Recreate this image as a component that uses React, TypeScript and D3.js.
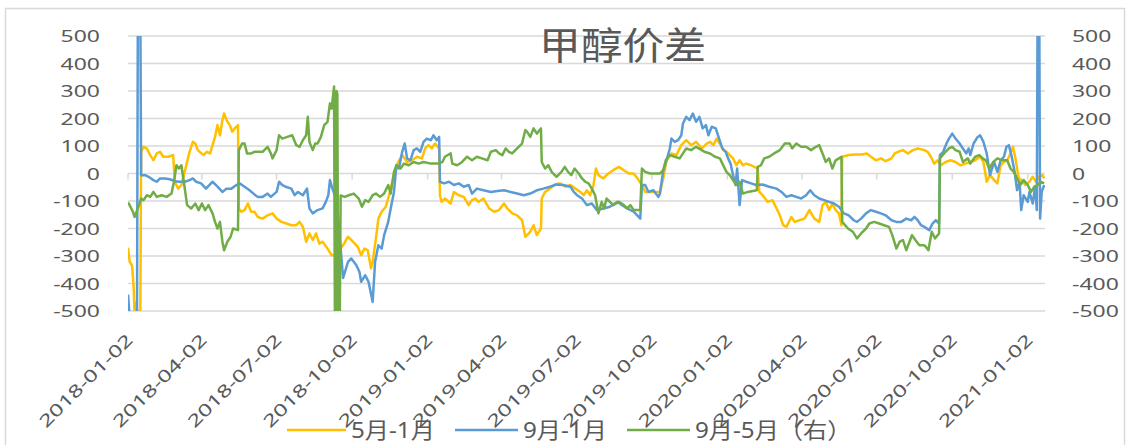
import React from 'react';
import * as d3 from 'd3';

// 甲醇价差 — three calendar spreads, daily closes
const spread51: [string, number][] = [
  ['2018-01-02', -270], ['2018-01-04', -320], ['2018-01-07', -335], ['2018-01-09', -420], ['2018-01-10', -520],
  ['2018-01-12', -470], ['2018-01-14', -520], ['2018-01-17', -520], ['2018-01-18', 79], ['2018-01-21', 97],
  ['2018-01-25', 91], ['2018-01-29', 67], ['2018-02-02', 48], ['2018-02-06', 73], ['2018-02-10', 79],
  ['2018-02-14', 61], ['2018-02-20', 61], ['2018-02-26', 67], ['2018-02-28', -30], ['2018-03-04', -55],
  ['2018-03-08', -42], ['2018-03-11', -6], ['2018-03-14', 30], ['2018-03-18', 79], ['2018-03-22', 115],
  ['2018-03-25', 109], ['2018-03-28', 85], ['2018-04-04', 67], ['2018-04-08', 79], ['2018-04-12', 73],
  ['2018-04-15', 103], ['2018-04-18', 133], ['2018-04-21', 176], ['2018-04-24', 139], ['2018-04-27', 194],
  ['2018-04-29', 218], ['2018-05-02', 194], ['2018-05-06', 176], ['2018-05-09', 152], ['2018-05-12', 164],
  ['2018-05-16', 176], ['2018-05-17', -127], ['2018-05-20', -139], ['2018-05-24', -133], ['2018-05-28', -109],
  ['2018-06-01', -139], ['2018-06-05', -139], ['2018-06-09', -158], ['2018-06-15', -164], ['2018-06-21', -152],
  ['2018-06-27', -145], ['2018-07-02', -164], ['2018-07-08', -176], ['2018-07-14', -182], ['2018-07-20', -188],
  ['2018-07-26', -188], ['2018-07-30', -176], ['2018-08-03', -194], ['2018-08-07', -248], ['2018-08-11', -218],
  ['2018-08-15', -242], ['2018-08-19', -218], ['2018-08-23', -255], ['2018-08-27', -248], ['2018-09-02', -273],
  ['2018-09-07', -297], ['2018-09-11', -297], ['2018-09-16', -280], ['2018-09-21', -261], ['2018-09-27', -230],
  ['2018-10-03', -248], ['2018-10-09', -267], ['2018-10-13', -297], ['2018-10-17', -273], ['2018-10-21', -279],
  ['2018-10-25', -345], ['2018-10-27', -321], ['2018-10-31', -236], ['2018-11-03', -164], ['2018-11-07', -139],
  ['2018-11-12', -121], ['2018-11-16', -79], ['2018-11-18', -55], ['2018-11-22', -6], ['2018-11-25', 30],
  ['2018-12-02', 67], ['2018-12-08', 42], ['2018-12-14', 48], ['2018-12-20', 61], ['2018-12-26', 55],
  ['2018-12-30', 91], ['2019-01-03', 103], ['2019-01-07', 91], ['2019-01-11', 109], ['2019-01-16', 91],
  ['2019-01-17', -79], ['2019-01-19', -103], ['2019-01-23', -91], ['2019-01-30', -109], ['2019-02-03', -67],
  ['2019-02-09', -79], ['2019-02-15', -85], ['2019-02-21', -115], ['2019-02-25', -97], ['2019-03-01', -91],
  ['2019-03-05', -103], ['2019-03-11', -91], ['2019-03-18', -127], ['2019-03-24', -139], ['2019-03-30', -133],
  ['2019-04-05', -109], ['2019-04-09', -127], ['2019-04-15', -145], ['2019-04-21', -152], ['2019-04-27', -170],
  ['2019-05-01', -230], ['2019-05-07', -212], ['2019-05-11', -188], ['2019-05-15', -224], ['2019-05-20', -200],
  ['2019-05-21', -91], ['2019-05-25', -67], ['2019-05-31', -55], ['2019-06-06', -40], ['2019-06-12', -36],
  ['2019-06-19', -48], ['2019-06-25', -42], ['2019-07-01', -55], ['2019-07-07', -67], ['2019-07-11', -79],
  ['2019-07-15', -61], ['2019-07-19', -79], ['2019-07-23', -42], ['2019-07-26', 18], ['2019-07-29', -6],
  ['2019-08-04', -18], ['2019-08-10', 0], ['2019-08-16', 12], ['2019-08-23', 24], ['2019-08-29', 12],
  ['2019-09-04', 0], ['2019-09-10', 0], ['2019-09-16', -24], ['2019-09-20', -42], ['2019-09-24', -67],
  ['2019-09-30', -67], ['2019-10-06', -67], ['2019-10-12', -67], ['2019-10-16', -18], ['2019-10-20', 48],
  ['2019-10-26', 73], ['2019-11-01', 67], ['2019-11-07', 103], ['2019-11-13', 121], ['2019-11-19', 103],
  ['2019-11-25', 115], ['2019-12-02', 91], ['2019-12-08', 109], ['2019-12-12', 115], ['2019-12-16', 103],
  ['2019-12-20', 127], ['2019-12-24', 109], ['2019-12-28', 85], ['2020-01-01', 79], ['2020-01-05', 67],
  ['2020-01-09', 55], ['2020-01-13', 30], ['2020-01-17', 48], ['2020-01-21', 30], ['2020-01-25', 36],
  ['2020-01-31', 30], ['2020-02-08', 18], ['2020-02-10', -67], ['2020-02-14', -79], ['2020-02-20', -103],
  ['2020-02-26', -97], ['2020-03-02', -127], ['2020-03-06', -152], ['2020-03-10', -188], ['2020-03-14', -194],
  ['2020-03-20', -158], ['2020-03-24', -176], ['2020-03-30', -170], ['2020-04-05', -164], ['2020-04-11', -133],
  ['2020-04-17', -164], ['2020-04-23', -176], ['2020-04-27', -115], ['2020-05-01', -103], ['2020-05-05', -133],
  ['2020-05-09', -109], ['2020-05-13', -133], ['2020-05-17', -145], ['2020-05-20', -188], ['2020-05-21', 61],
  ['2020-05-29', 67], ['2020-06-06', 69], ['2020-06-14', 69], ['2020-06-20', 73], ['2020-06-25', 61],
  ['2020-07-01', 48], ['2020-07-07', 55], ['2020-07-13', 45], ['2020-07-20', 55], ['2020-07-24', 73],
  ['2020-07-28', 79], ['2020-08-03', 85], ['2020-08-09', 73], ['2020-08-15', 85], ['2020-08-21', 91],
  ['2020-08-29', 85], ['2020-09-02', 79], ['2020-09-06', 61], ['2020-09-10', 36], ['2020-09-14', 48],
  ['2020-09-18', 30], ['2020-09-24', 42], ['2020-09-30', 48], ['2020-10-06', 42], ['2020-10-12', 30],
  ['2020-10-18', 36], ['2020-10-24', 42], ['2020-10-30', 48], ['2020-11-05', 61], ['2020-11-09', 42],
  ['2020-11-13', -30], ['2020-11-17', -6], ['2020-11-22', -24], ['2020-11-26', -36], ['2020-11-30', 30],
  ['2020-12-04', 42], ['2020-12-08', 48], ['2020-12-12', 73], ['2020-12-15', 97], ['2020-12-18', 55],
  ['2020-12-22', -18], ['2020-12-26', -24], ['2020-12-30', -42], ['2021-01-04', -30], ['2021-01-08', -12],
  ['2021-01-12', -30], ['2021-01-16', -12], ['2021-01-20', -6], ['2021-01-22', -18],
];

const spread91: [string, number][] = [
  ['2018-01-02', -440], ['2018-01-04', -520], ['2018-01-13', -520], ['2018-01-14', 600], ['2018-01-17', 600],
  ['2018-01-18', -6], ['2018-01-23', -6], ['2018-01-27', -12], ['2018-02-02', -24], ['2018-02-06', -30],
  ['2018-02-10', -18], ['2018-02-16', -18], ['2018-02-22', -21], ['2018-02-28', -28], ['2018-03-06', -30],
  ['2018-03-12', -30], ['2018-03-18', -24], ['2018-03-22', -18], ['2018-03-26', -30], ['2018-04-01', -36],
  ['2018-04-07', -55], ['2018-04-11', -42], ['2018-04-15', -30], ['2018-04-21', -48], ['2018-04-27', -67],
  ['2018-05-02', -55], ['2018-05-08', -55], ['2018-05-14', -42], ['2018-05-18', -36], ['2018-05-24', -48],
  ['2018-05-30', -61], ['2018-06-05', -76], ['2018-06-09', -85], ['2018-06-15', -85], ['2018-06-21', -73],
  ['2018-06-25', -85], ['2018-07-02', -67], ['2018-07-05', -30], ['2018-07-09', -42], ['2018-07-13', -48],
  ['2018-07-20', -55], ['2018-07-24', -79], ['2018-07-28', -67], ['2018-08-03', -79], ['2018-08-08', -55],
  ['2018-08-11', -127], ['2018-08-15', -145], ['2018-08-21', -133], ['2018-08-27', -127], ['2018-08-31', -103],
  ['2018-09-03', -79], ['2018-09-05', -24], ['2018-09-08', -55], ['2018-09-11', -79], ['2018-09-13', -90],
  ['2018-09-21', -380], ['2018-09-27', -321], ['2018-10-01', -309], ['2018-10-07', -333], ['2018-10-11', -358],
  ['2018-10-13', -394], ['2018-10-18', -370], ['2018-10-22', -394], ['2018-10-27', -467], ['2018-10-30', -321],
  ['2018-11-03', -261], ['2018-11-07', -273], ['2018-11-10', -224], ['2018-11-15', -176], ['2018-11-18', -127],
  ['2018-11-22', -67], ['2018-11-25', 30], ['2018-11-28', 18], ['2018-12-02', 79], ['2018-12-05', 109],
  ['2018-12-08', 55], ['2018-12-12', 48], ['2018-12-16', 85], ['2018-12-20', 91], ['2018-12-24', 79],
  ['2018-12-28', 115], ['2019-01-01', 127], ['2019-01-06', 121], ['2019-01-09', 139], ['2019-01-13', 121],
  ['2019-01-16', 133], ['2019-01-17', -30], ['2019-01-22', -36], ['2019-01-28', -30], ['2019-02-03', -42],
  ['2019-02-09', -36], ['2019-02-15', -48], ['2019-02-21', -42], ['2019-02-25', -73], ['2019-03-03', -55],
  ['2019-03-11', -61], ['2019-03-20', -67], ['2019-03-28', -64], ['2019-04-05', -61], ['2019-04-13', -67],
  ['2019-04-21', -73], ['2019-04-29', -79], ['2019-05-07', -73], ['2019-05-15', -61], ['2019-05-23', -55],
  ['2019-05-31', -48], ['2019-06-08', -40], ['2019-06-16', -42], ['2019-06-25', -48], ['2019-06-29', -67],
  ['2019-07-03', -79], ['2019-07-09', -91], ['2019-07-15', -115], ['2019-07-21', -109], ['2019-07-27', -133],
  ['2019-08-04', -127], ['2019-08-12', -121], ['2019-08-21', -103], ['2019-08-27', -115], ['2019-09-02', -127],
  ['2019-09-10', -139], ['2019-09-18', -164], ['2019-09-20', -42], ['2019-09-24', -42], ['2019-09-28', -67],
  ['2019-10-04', -61], ['2019-10-10', -85], ['2019-10-12', -73], ['2019-10-16', 12], ['2019-10-20', 48],
  ['2019-10-24', 91], ['2019-10-26', 127], ['2019-10-30', 115], ['2019-11-03', 121], ['2019-11-07', 139],
  ['2019-11-09', 182], ['2019-11-13', 206], ['2019-11-17', 194], ['2019-11-21', 218], ['2019-11-25', 188],
  ['2019-11-29', 206], ['2019-12-03', 164], ['2019-12-07', 176], ['2019-12-10', 139], ['2019-12-14', 170],
  ['2019-12-19', 164], ['2019-12-23', 127], ['2019-12-27', 91], ['2019-12-31', 79], ['2020-01-03', 55],
  ['2020-01-06', 36], ['2020-01-09', -6], ['2020-01-12', -42], ['2020-01-14', 18], ['2020-01-17', -115],
  ['2020-01-20', -24], ['2020-01-25', -30], ['2020-01-31', -36], ['2020-02-06', -42], ['2020-02-14', -40],
  ['2020-02-22', -48], ['2020-03-02', -55], ['2020-03-08', -67], ['2020-03-14', -85], ['2020-03-20', -79],
  ['2020-03-26', -85], ['2020-04-01', -91], ['2020-04-07', -79], ['2020-04-12', -61], ['2020-04-17', -79],
  ['2020-04-23', -91], ['2020-04-29', -97], ['2020-05-05', -103], ['2020-05-11', -109], ['2020-05-17', -121],
  ['2020-05-23', -145], ['2020-05-29', -152], ['2020-06-04', -170], ['2020-06-08', -176], ['2020-06-13', -164],
  ['2020-06-19', -145], ['2020-06-25', -133], ['2020-07-01', -139], ['2020-07-07', -145], ['2020-07-13', -152],
  ['2020-07-20', -170], ['2020-07-26', -176], ['2020-08-01', -176], ['2020-08-07', -164], ['2020-08-13', -170],
  ['2020-08-17', -158], ['2020-08-21', -170], ['2020-08-25', -188], ['2020-08-29', -194], ['2020-09-04', -206],
  ['2020-09-08', -182], ['2020-09-12', -170], ['2020-09-16', -182], ['2020-09-17', 67], ['2020-09-21', 79],
  ['2020-09-25', 109], ['2020-09-28', 127], ['2020-10-02', 145], ['2020-10-06', 127], ['2020-10-11', 109],
  ['2020-10-15', 91], ['2020-10-19', 73], ['2020-10-22', 91], ['2020-10-24', 67], ['2020-10-28', 109],
  ['2020-11-02', 133], ['2020-11-05', 139], ['2020-11-09', 115], ['2020-11-13', 73], ['2020-11-17', -6],
  ['2020-11-22', 42], ['2020-11-26', 6], ['2020-11-30', 48], ['2020-12-04', 61], ['2020-12-07', 97],
  ['2020-12-10', 103], ['2020-12-13', 67], ['2020-12-17', 6], ['2020-12-20', -61], ['2020-12-23', -30],
  ['2020-12-25', -133], ['2020-12-28', -79], ['2021-01-02', -103], ['2021-01-04', -67], ['2021-01-08', -109],
  ['2021-01-11', -48], ['2021-01-13', -133], ['2021-01-14', 600], ['2021-01-16', 600], ['2021-01-17', -164],
  ['2021-01-19', -67], ['2021-01-22', -42],
];

const spread95: [string, number][] = [
  ['2018-01-02', -105], ['2018-01-04', -115], ['2018-01-08', -139], ['2018-01-10', -158], ['2018-01-14', -127],
  ['2018-01-18', -91], ['2018-01-21', -97], ['2018-01-25', -79], ['2018-01-29', -85], ['2018-02-02', -67],
  ['2018-02-06', -85], ['2018-02-12', -79], ['2018-02-18', -85], ['2018-02-24', -73], ['2018-02-27', -30],
  ['2018-03-02', 30], ['2018-03-05', 18], ['2018-03-08', 30], ['2018-03-11', -30], ['2018-03-15', -115],
  ['2018-03-20', -127], ['2018-03-25', -109], ['2018-03-29', -133], ['2018-04-02', -109], ['2018-04-06', -133],
  ['2018-04-10', -115], ['2018-04-15', -145], ['2018-04-18', -176], ['2018-04-21', -200], ['2018-04-24', -176],
  ['2018-04-27', -248], ['2018-04-29', -279], ['2018-05-03', -248], ['2018-05-07', -230], ['2018-05-10', -200],
  ['2018-05-16', -206], ['2018-05-17', 85], ['2018-05-21', 109], ['2018-05-24', 109], ['2018-05-27', 73],
  ['2018-06-01', 73], ['2018-06-05', 79], ['2018-06-09', 79], ['2018-06-15', 79], ['2018-06-21', 97],
  ['2018-06-25', 73], ['2018-06-27', 55], ['2018-07-02', 85], ['2018-07-05', 139], ['2018-07-09', 127],
  ['2018-07-15', 133], ['2018-07-21', 139], ['2018-07-26', 103], ['2018-07-30', 97], ['2018-08-03', 121],
  ['2018-08-07', 139], ['2018-08-09', 206], ['2018-08-11', 115], ['2018-08-15', 85], ['2018-08-18', 109],
  ['2018-08-21', 109], ['2018-08-25', 133], ['2018-08-29', 176], ['2018-09-02', 188], ['2018-09-05', 255],
  ['2018-09-07', 236], ['2018-09-10', 316], ['2018-09-11', -520], ['2018-09-12', -520], ['2018-09-13', 300],
  ['2018-09-14', 290], ['2018-09-15', -520], ['2018-09-17', -520], ['2018-09-18', -80], ['2018-09-23', -85],
  ['2018-09-28', -79], ['2018-10-04', -73], ['2018-10-10', -91], ['2018-10-14', -121], ['2018-10-18', -97],
  ['2018-10-22', -103], ['2018-10-27', -79], ['2018-10-31', -73], ['2018-11-05', -85], ['2018-11-10', -73],
  ['2018-11-15', -42], ['2018-11-18', -73], ['2018-11-22', 6], ['2018-11-25', 30], ['2018-11-30', 18],
  ['2018-12-04', 36], ['2018-12-10', 30], ['2018-12-16', 42], ['2018-12-22', 36], ['2018-12-28', 42],
  ['2019-01-06', 36], ['2019-01-14', 36], ['2019-01-20', 42], ['2019-01-23', 61], ['2019-01-30', 73],
  ['2019-02-01', 36], ['2019-02-07', 30], ['2019-02-13', 42], ['2019-02-19', 61], ['2019-02-25', 48],
  ['2019-03-03', 61], ['2019-03-09', 55], ['2019-03-16', 48], ['2019-03-20', 79], ['2019-03-26', 85],
  ['2019-03-30', 73], ['2019-04-03', 67], ['2019-04-07', 91], ['2019-04-11', 79], ['2019-04-15', 73],
  ['2019-04-21', 91], ['2019-04-27', 109], ['2019-05-01', 158], ['2019-05-03', 152], ['2019-05-07', 133],
  ['2019-05-11', 164], ['2019-05-15', 145], ['2019-05-20', 164], ['2019-05-21', 42], ['2019-05-25', 18],
  ['2019-05-29', 30], ['2019-06-02', 6], ['2019-06-08', -12], ['2019-06-14', 6], ['2019-06-18', 24],
  ['2019-06-22', 6], ['2019-06-26', -6], ['2019-06-30', 18], ['2019-07-05', 0], ['2019-07-09', -18],
  ['2019-07-13', -30], ['2019-07-17', -36], ['2019-07-21', -55], ['2019-07-25', -79], ['2019-07-29', -145],
  ['2019-08-02', -103], ['2019-08-05', -127], ['2019-08-08', -91], ['2019-08-12', -103], ['2019-08-16', -115],
  ['2019-08-23', -103], ['2019-08-29', -115], ['2019-09-02', -127], ['2019-09-06', -115], ['2019-09-10', -133],
  ['2019-09-18', -133], ['2019-09-20', 18], ['2019-09-24', 6], ['2019-09-30', 0], ['2019-10-06', 0],
  ['2019-10-12', 0], ['2019-10-16', 12], ['2019-10-19', 48], ['2019-10-24', 67], ['2019-10-30', 61],
  ['2019-11-05', 55], ['2019-11-09', 73], ['2019-11-13', 91], ['2019-11-19', 85], ['2019-11-25', 97],
  ['2019-12-02', 85], ['2019-12-05', 79], ['2019-12-12', 73], ['2019-12-18', 61], ['2019-12-24', 55],
  ['2019-12-28', 30], ['2020-01-01', 6], ['2020-01-05', -6], ['2020-01-09', -24], ['2020-01-13', -42],
  ['2020-01-17', -30], ['2020-01-21', -73], ['2020-01-27', -67], ['2020-02-02', -64], ['2020-02-07', -61],
  ['2020-02-08', 24], ['2020-02-12', 30], ['2020-02-16', 55], ['2020-02-22', 61], ['2020-02-28', 73],
  ['2020-03-06', 85], ['2020-03-12', 109], ['2020-03-18', 109], ['2020-03-21', 91], ['2020-03-26', 109],
  ['2020-04-01', 97], ['2020-04-07', 97], ['2020-04-13', 85], ['2020-04-19', 97], ['2020-04-23', 103],
  ['2020-04-27', 73], ['2020-05-01', 42], ['2020-05-05', 55], ['2020-05-09', 18], ['2020-05-13', 48],
  ['2020-05-17', 55], ['2020-05-20', 61], ['2020-05-21', -176], ['2020-05-28', -200], ['2020-06-03', -212],
  ['2020-06-08', -236], ['2020-06-13', -218], ['2020-06-19', -200], ['2020-06-23', -182], ['2020-06-29', -176],
  ['2020-07-05', -182], ['2020-07-11', -188], ['2020-07-17', -194], ['2020-07-21', -224], ['2020-07-26', -273],
  ['2020-07-30', -248], ['2020-08-03', -242], ['2020-08-07', -279], ['2020-08-11', -248], ['2020-08-14', -224],
  ['2020-08-18', -242], ['2020-08-23', -261], ['2020-08-29', -261], ['2020-08-31', -267], ['2020-09-03', -279],
  ['2020-09-07', -212], ['2020-09-11', -236], ['2020-09-16', -218], ['2020-09-17', 55], ['2020-09-22', 73],
  ['2020-09-28', 91], ['2020-10-02', 97], ['2020-10-06', 85], ['2020-10-11', 79], ['2020-10-15', 42],
  ['2020-10-21', 55], ['2020-10-24', 36], ['2020-10-30', 61], ['2020-11-04', 67], ['2020-11-08', 55],
  ['2020-11-12', 48], ['2020-11-16', 18], ['2020-11-21', 42], ['2020-11-26', 55], ['2020-12-02', 48],
  ['2020-12-08', 48], ['2020-12-12', 18], ['2020-12-16', 6], ['2020-12-20', -18], ['2020-12-24', -42],
  ['2020-12-28', -24], ['2021-01-02', -42], ['2021-01-06', -67], ['2021-01-10', -48], ['2021-01-14', -42],
  ['2021-01-18', -30], ['2021-01-22', -36],
];

const xTickLabels = [
  '2018-01-02', '2018-04-02', '2018-07-02', '2018-10-02', '2019-01-02', '2019-04-02', '2019-07-02',
  '2019-10-02', '2020-01-02', '2020-04-02', '2020-07-02', '2020-10-02', '2021-01-02',
];
const yTicks = [-500, -400, -300, -200, -100, 0, 100, 200, 300, 400, 500];
const seriesNames = ['5月-1月', '9月-1月', '9月-5月（右）'];
const seriesColors = ['#FFC000', '#5B9BD5', '#70AD47'];

const W = 1129;
const H = 445;
const plot = { left: 128, right: 1045, top: 36, bottom: 311 };
const font = "'Noto Sans', 'Noto Sans CJK SC', sans-serif";
const textColor = '#595959';
const gridColor = '#D9D9D9';

const parse = d3.timeParse('%Y-%m-%d');

export default function App() {
  const x = d3.scaleTime()
    .domain([parse('2018-01-02') as Date, parse('2021-01-23') as Date])
    .range([plot.left, plot.right]);
  const y = d3.scaleLinear().domain([-500, 500]).range([plot.bottom, plot.top]);
  const yRight = d3.scaleLinear().domain([-500, 500]).range([plot.bottom, plot.top]);

  const lineL = d3.line<[string, number]>()
    .x(d => x(parse(d[0]) as Date))
    .y(d => y(d[1]));
  const lineR = d3.line<[string, number]>()
    .x(d => x(parse(d[0]) as Date))
    .y(d => yRight(d[1]));

  const series = [
    { name: seriesNames[0], color: seriesColors[0], path: lineL(spread51) },
    { name: seriesNames[1], color: seriesColors[1], path: lineL(spread91) },
    { name: seriesNames[2], color: seriesColors[2], path: lineR(spread95) },
  ];

  // legend placement (line sample + label)
  const legend = [
    { x1: 287, x2: 346, tx: 351 },
    { x1: 455, x2: 518, tx: 523 },
    { x1: 627, x2: 690, tx: 695 },
  ];
  const legendY = 430;
  const y0 = y(0);

  return (
    <svg width={W} height={H} style={{ position: 'absolute', left: 0, top: 0, background: '#fff' }}
      fontFamily={font}>
      <defs>
        <clipPath id="plot-clip">
          <rect x={plot.left} y={plot.top} width={plot.right - plot.left} height={plot.bottom - plot.top} />
        </clipPath>
      </defs>
      <rect x={5.5} y={8.5} width={1119} height={445} fill="#fff" stroke={gridColor} strokeWidth={1.5} />

      {yTicks.map(t => (
        <line key={t} x1={plot.left} x2={plot.right} y1={y(t)} y2={y(t)} stroke={gridColor} strokeWidth={1.5} />
      ))}
      {xTickLabels.map(l => {
        const tx = x(parse(l) as Date);
        return <line key={l} x1={tx} x2={tx} y1={y0} y2={y0 + 6} stroke={gridColor} strokeWidth={1.5} />;
      })}

      <text x={622.5} y={59} textAnchor="middle" fontSize={38} fill={textColor}
        transform="translate(622.5,0) scale(1.1,1) translate(-622.5,0)">甲醇价差</text>

      <g clipPath="url(#plot-clip)" fill="none" strokeWidth={2.5} strokeLinejoin="round">
        {series.map(s => (
          <path key={s.name} d={s.path || ''} stroke={s.color} />
        ))}
      </g>

      {yTicks.map(t => (
        <text key={'l' + t} transform={`translate(100,${y(t) + 6}) scale(1.4,1)`} textAnchor="end"
          fontSize={16.4} fill={textColor}>{t}</text>
      ))}
      {yRight.ticks(10).map(t => (
        <text key={'r' + t} transform={`translate(1072,${yRight(t) + 6}) scale(1.4,1)`} textAnchor="start"
          fontSize={16.4} fill={textColor}>{t}</text>
      ))}

      {xTickLabels.map(l => {
        const tx = x(parse(l) as Date);
        return (
          <text key={'x' + l} transform={`translate(${tx + 6},341) rotate(-45) scale(1.4,1)`} textAnchor="end"
            fontSize={17} fill={textColor}>{l}</text>
        );
      })}

      {series.map((s, i) => (
        <g key={'lg' + s.name}>
          <line x1={legend[i].x1} x2={legend[i].x2} y1={legendY} y2={legendY} stroke={s.color} strokeWidth={2.5} />
          <text transform={`translate(${legend[i].tx},${legendY + 8}) scale(1.1,1)`} fontSize={22} fill={textColor}>
            {s.name}
          </text>
        </g>
      ))}
    </svg>
  );
}
